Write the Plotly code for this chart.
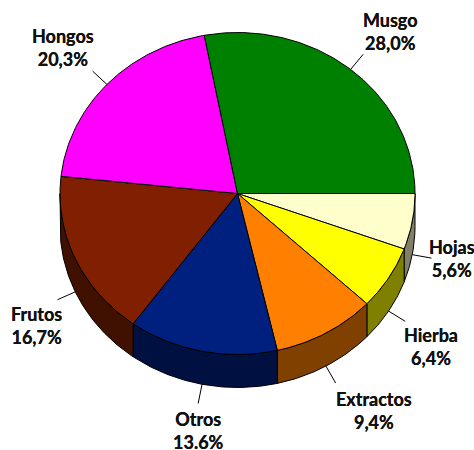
import numpy as np
import plotly.graph_objects as go

# Data, clockwise from 3 o'clock
categories = ["Hojas", "Hierba", "Extractos", "Otros", "Frutos", "Hongos", "Musgo"]
values = [5.6, 6.4, 9.4, 13.6, 16.7, 20.3, 28.0]
value_labels = ["5,6%", "6,4%", "9,4%", "13.6%", "16,7%", "20,3%", "28,0%"]

# Styles
top_colors = ["#FFFFCC", "#FFFF00", "#FF8000", "#002080", "#802000", "#FF00FF", "#008000"]
side_colors = ["#808066", "#808000", "#804000", "#001040", "#401000", "#800080", "#004000"]

# Layout (pixels)
W, H = 474, 450
CX, CY, RX, RY, DEPTH = 237.5, 193.5, 177.5, 161, 33
LEADER = 19.5
label_centers = {
    "Hojas": (452, 258), "Hierba": (431, 346), "Extractos": (374, 410),
    "Otros": (198, 430), "Frutos": (36, 325), "Hongos": (63, 47), "Musgo": (390, 31),
}


def arc(a0, a1, dy=0.0):
    n = max(2, int(abs(a1 - a0) * 90))
    t = np.linspace(a0, a1, n)
    return CX + RX * np.cos(t), CY + RY * np.sin(t) + dy


fig = go.Figure()
fractions = np.array(values) / sum(values)
edges = np.concatenate([[0], np.cumsum(fractions)]) * 2 * np.pi

# Extruded rim: only the front half is visible
for i, name in enumerate(categories):
    a0, a1 = edges[i], min(edges[i + 1], np.pi)
    if a1 <= a0:
        continue
    xt, yt = arc(a0, a1)
    xb, yb = arc(a1, a0, DEPTH)
    fig.add_trace(go.Scatter(
        x=np.r_[xt, xb, xt[0]], y=np.r_[yt, yb, yt[0]], mode="lines", fill="toself",
        fillcolor=side_colors[i], line=dict(color="black", width=1),
        hoverinfo="skip", showlegend=False))

# Top face
for i, name in enumerate(categories):
    xa, ya = arc(edges[i], edges[i + 1])
    fig.add_trace(go.Scatter(
        x=np.r_[CX, xa, CX], y=np.r_[CY, ya, CY], mode="lines", fill="toself",
        fillcolor=top_colors[i], line=dict(color="black", width=1),
        name=name, hovertemplate=f"{name}: {values[i]}%<extra></extra>", showlegend=False))

# Leader lines and labels
for i, name in enumerate(categories):
    mid = (edges[i] + edges[i + 1]) / 2
    x0 = CX + RX * np.cos(mid)
    y0 = CY + RY * np.sin(mid) + (DEPTH if np.sin(mid) > 0 else 0)
    x1 = x0 + LEADER * np.cos(mid)
    y1 = y0 + LEADER * np.sin(mid)
    fig.add_trace(go.Scatter(x=[x0, x1], y=[y0, y1], mode="lines",
                             line=dict(color="black", width=1),
                             hoverinfo="skip", showlegend=False))
    lx, ly = label_centers[name]
    fig.add_annotation(x=lx, y=ly, text=f"<b>{name}<br>{value_labels[i]}</b>",
                       showarrow=False, align="center", xanchor="center", yanchor="middle")

fig.update_annotations(font=dict(family="Lato, sans-serif", size=18, color="#111111",
                                 shadow="0 0 0.6px #111111"))
fig.update_layout(
    width=W, height=H, margin=dict(l=0, r=0, t=0, b=0),
    paper_bgcolor="white", plot_bgcolor="white", showlegend=False,
    xaxis=dict(range=[0, W], visible=False, fixedrange=True),
    yaxis=dict(range=[H, 0], visible=False, fixedrange=True),
)
fig.write_html("out.html", config={"displayModeBar": False},
               post_script="document.body.style.margin='0';")
